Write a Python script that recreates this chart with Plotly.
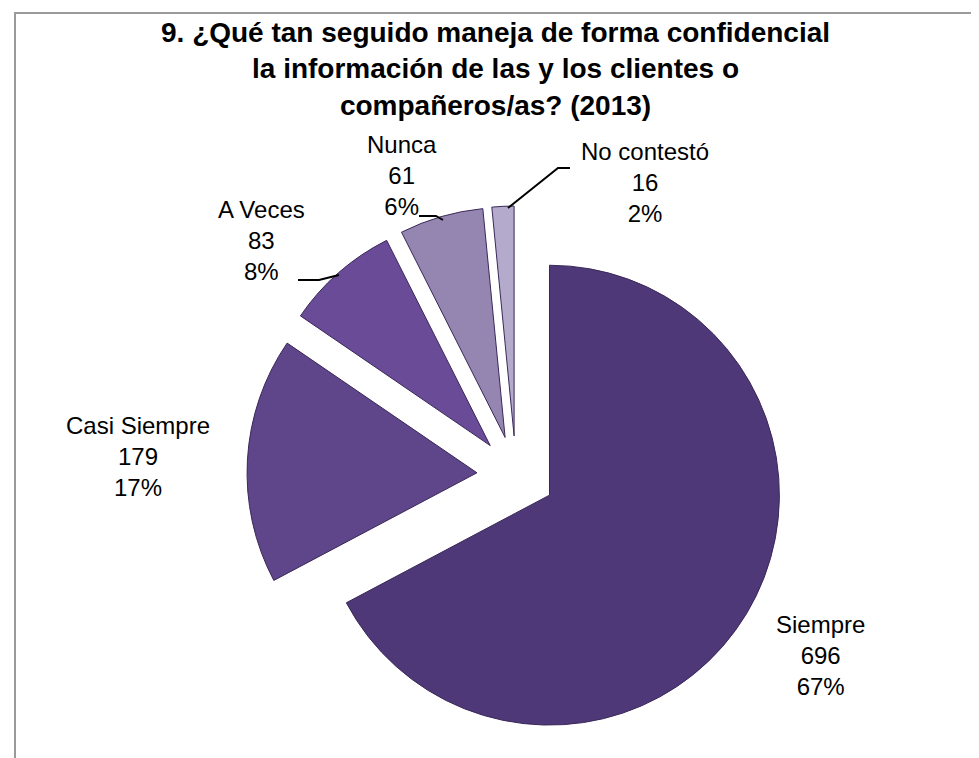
import plotly.graph_objects as go

# ---- data ----
categories = ["Siempre", "Casi Siempre", "A Veces", "Nunca", "No contestó"]
values = [696, 179, 83, 61, 16]
colors = ["#4F3878", "#5F4589", "#6A4B98", "#9585B1", "#B4AACB"]
title_text = ("<b>9. ¿Qué tan seguido maneja de forma confidencial<br>"
              "la información de las y los clientes o<br>"
              "compañeros/as? (2013)</b>")

W, H = 979, 758
total = sum(values)
percents = [round(v * 100 / total) for v in values]


def px(x, y):
    return x / W, 1 - y / H


fig = go.Figure()
fig.add_trace(go.Pie(
    labels=categories,
    values=values,
    sort=False,
    direction="clockwise",
    rotation=0,
    pull=[0.17] * len(values),
    marker=dict(colors=colors, line=dict(color="#3A2858", width=1)),
    textinfo="none",
    hoverinfo="label+value+percent",
    showlegend=False,
    domain=dict(x=[239 / W, 777 / W], y=[(H - 736) / H, (H - 198) / H]),
))

# label placement (layout positions, in pixels)
label_pos = {
    "Siempre": (812, 647),
    "Casi Siempre": (130, 448),
    "A Veces": (253, 232),
    "Nunca": (394, 167),
    "No contestó": (637, 175),
}
annotations = []
for cat, v, p in zip(categories, values, percents):
    x, y = px(*label_pos[cat])
    annotations.append(dict(
        x=x, y=y, xref="paper", yref="paper",
        text=f"{cat}<br>{v}<br>{p}%", showarrow=False,
        xanchor="center", yanchor="middle",
        font=dict(family="Liberation Sans, Arial", size=24, color="#000000"),
    ))

# title as annotation
tx, ty = px(487, 7)
annotations.append(dict(
    x=tx, y=ty, xref="paper", yref="paper", text=title_text, showarrow=False,
    xanchor="center", yanchor="top",
    font=dict(family="Liberation Sans, Arial", size=28, color="#000000"),
))

# leader lines (pixel paths)
leaders = [
    [(290, 272), (311, 272), (331, 267)],
    [(411, 208), (428, 208), (435, 212)],
    [(562, 160), (550, 160), (500, 200)],
]
shapes = []
for pts in leaders:
    path = ""
    for i, (a, b) in enumerate(pts):
        xx, yy = px(a, b)
        path += ("M" if i == 0 else "L") + f"{xx},{yy} "
    shapes.append(dict(type="path", path=path, xref="paper", yref="paper",
                       line=dict(color="#000000", width=2)))

# chart frame
shapes.append(dict(type="rect", xref="paper", yref="paper",
                   x0=7 / W, x1=1.02, y0=-0.02, y1=1 - 5 / H,
                   line=dict(color="#9A9A9A", width=2), fillcolor="rgba(0,0,0,0)"))

fig.update_layout(
    width=W, height=H,
    margin=dict(l=0, r=0, t=0, b=0),
    paper_bgcolor="#FFFFFF",
    plot_bgcolor="#FFFFFF",
    annotations=annotations,
    shapes=shapes,
)

fig.write_html("out.html")
